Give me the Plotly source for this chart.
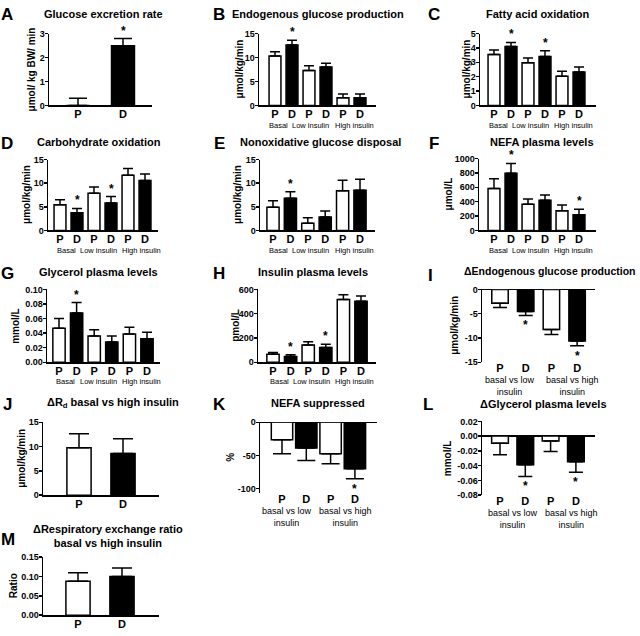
import plotly.graph_objects as go

W, H = 640, 636
FONT = "Liberation Sans, Arial, sans-serif"

# ---------------- data (means and SEM) ----------------
labels_pd = ["P", "D"]
labels_6 = ["P", "D", "P", "D", "P", "D"]
labels_4 = ["P", "D", "P", "D"]
groups_3 = ["Basal", "Low insulin", "High insulin"]
groups_2 = ["basal vs low<br>insulin", "basal vs high<br>insulin"]

excretion_mean = [0.0, 2.49]
excretion_sem = [0.30, 0.30]

egp_mean = [10.3, 12.6, 7.3, 8.0, 1.6, 1.6]
egp_sem = [0.9, 1.0, 1.0, 0.8, 0.8, 0.8]

fao_mean = [3.54, 4.09, 2.97, 3.40, 2.03, 2.33]
fao_sem = [0.32, 0.29, 0.32, 0.41, 0.34, 0.34]

cho_mean = [5.45, 3.75, 7.84, 5.80, 11.66, 10.57]
cho_sem = [1.05, 0.90, 1.36, 1.36, 1.44, 1.36]

nogd_mean = [4.9, 6.8, 1.5, 2.86, 8.4, 8.5]
nogd_sem = [1.37, 1.38, 1.2, 1.24, 2.2, 2.3]

nefa_mean = [582, 795, 364, 418, 273, 218]
nefa_sem = [136, 137, 72, 73, 82, 77]

glycerol_mean = [0.0468, 0.0676, 0.036, 0.028, 0.039, 0.0324]
glycerol_sem = [0.0132, 0.0144, 0.0086, 0.008, 0.009, 0.009]

insulin_mean = [67, 48, 143, 121, 517, 503]
insulin_sem = [14, 14, 26, 27, 40, 43]

d_egp_mean = [-2.84, -4.53, -8.24, -10.6]
d_egp_sem = [0.86, 0.81, 1.02, 1.0]

d_rd_mean = [9.75, 8.6]
d_rd_sem = [2.9, 3.0]

nefa_supp_mean = [-26.4, -38.8, -47.3, -70.1]
nefa_supp_sem = [20.9, 18.9, 15.4, 14.9]

d_glycerol_mean = [-0.0098, -0.0387, -0.0067, -0.0347]
d_glycerol_sem = [0.0155, 0.016, 0.0142, 0.0142]

d_rer_mean = [0.088, 0.100]
d_rer_sem = [0.022, 0.022]

# y tick values
yt_A = [0, 1, 2, 3]
yt_15 = [0, 5, 10, 15]
yt_5 = [0, 1, 2, 3, 4, 5]
yt_nefa = [0, 200, 400, 600, 800, 1000]
yt_gly = [0.00, 0.02, 0.04, 0.06, 0.08, 0.10]
yt_ins = [0, 200, 400, 600]
yt_degp = [0, -5, -10, -15]
yt_supp = [0, -50, -100]
yt_dgly = [0.02, 0.00, -0.02, -0.04, -0.06, -0.08]
yt_rer = [0.00, 0.05, 0.10, 0.15]


def fmt(v, d):
    return f"{v:.{d}f}"


try:
    go.layout.YAxis(ticklabelstandoff=-2)
    YSTAND, XSTAND = -2, -2
except Exception:
    YSTAND, XSTAND = 0, 0

# ---------------- panel geometry (pixels) ----------------
# gx: pixel centres of the group labels
panels = [
    dict(letter="A", title="Glucose excretion rate", ytitle="μmol/ kg BW/ min",
         mean=excretion_mean, sem=excretion_sem, stars=[1], xl=labels_pd, groups=None, gx=None,
         L=49, R=152, c0=78, s=45, top=29, bot=102, yr=[0, 3], yt=yt_A, dec=0, bw=0.51,
         lx=7, ly=10, tx=103, ty=9, tfs=11, ytx=31),
    dict(letter="B", title="Endogenous glucose production", ytitle="μmol/kg/min",
         mean=egp_mean, sem=egp_sem, stars=[1], xl=labels_6, groups=groups_3, gx=[278, 310, 354],
         L=259, R=376, c0=275, s=17, top=29, bot=102, yr=[0, 15], yt=yt_15, dec=0, bw=0.7,
         lx=219, ly=10, tx=318, ty=9, tfs=11, ytx=239),
    dict(letter="C", title="Fatty acid oxidation", ytitle="μmol/kg/min",
         mean=fao_mean, sem=fao_sem, stars=[1, 3], xl=labels_6, groups=groups_3, gx=[498, 530, 573],
         L=480, R=596, c0=494, s=17, top=29, bot=102, yr=[0, 5], yt=yt_5, dec=0, bw=0.7,
         lx=434, ly=10, tx=538, ty=9, tfs=11, ytx=466),
    dict(letter="D", title="Carbohydrate oxidation", ytitle="μmol/kg/min",
         mean=cho_mean, sem=cho_sem, stars=[1, 3], xl=labels_6, groups=groups_3, gx=[66, 98, 141],
         L=48, R=158, c0=60, s=17, top=157, bot=229, yr=[0, 15], yt=yt_15, dec=0, bw=0.7,
         lx=7, ly=141, tx=99, ty=139, tfs=11, ytx=27),
    dict(letter="E", title="Nonoxidative glucose disposal", ytitle="μmol/kg/min",
         mean=nogd_mean, sem=nogd_sem, stars=[1], xl=labels_6, groups=groups_3, gx=[278, 310, 354],
         L=260, R=375, c0=273, s=17.4, top=157, bot=229, yr=[0, 15], yt=yt_15, dec=0, bw=0.7,
         lx=219, ly=141, tx=320, ty=139, tfs=11, ytx=238),
    dict(letter="F", title="NEFA plasma levels", ytitle="μmol/L",
         mean=nefa_mean, sem=nefa_sem, stars=[1, 5], xl=labels_6, groups=groups_3, gx=[498, 530, 573],
         L=479, R=596, c0=494, s=17, top=156, bot=229, yr=[0, 1000], yt=yt_nefa, dec=0, bw=0.7,
         lx=434, ly=141, tx=542, ty=139, tfs=11, ytx=448),
    dict(letter="G", title="Glycerol plasma levels", ytitle="mmol/L",
         mean=glycerol_mean, sem=glycerol_sem, stars=[1], xl=labels_6, groups=groups_3, gx=[65, 98, 141],
         L=47, R=160, c0=59, s=17.6, top=289, bot=363, yr=[0, 0.10], yt=yt_gly, dec=2, bw=0.7,
         lx=7, ly=273, tx=98, ty=271, tfs=11, ytx=16),
    dict(letter="H", title="Insulin plasma levels", ytitle="pmol/L",
         mean=insulin_mean, sem=insulin_sem, stars=[1, 3], xl=labels_6, groups=groups_3, gx=[279, 311, 354],
         L=258, R=376, c0=273, s=17.6, top=289, bot=363, yr=[0, 600], yt=yt_ins, dec=0, bw=0.7,
         lx=219, ly=273, tx=313, ty=271, tfs=11, ytx=236),
    dict(letter="I", title="ΔEndogenous glucose production", ytitle="μmol/kg/min",
         mean=d_egp_mean, sem=d_egp_sem, stars=[1, 3], xl=labels_4, groups=groups_2, gx=[510, 572],
         L=482, R=595, c0=500, s=25.7, top=289, bot=363, yr=[-15, 0], yt=yt_degp, dec=0, bw=0.64,
         lx=430, ly=275, tx=549, ty=270, tfs=10.5, ytx=455),
    dict(letter="J", title="ΔR<sub>d</sub> basal vs high insulin", ytitle="μmol/kg/min",
         mean=d_rd_mean, sem=d_rd_sem, stars=[], xl=labels_pd, groups=None, gx=None,
         L=43, R=159, c0=79, s=44, top=424, bot=498, yr=[0, 15], yt=yt_15, dec=0, bw=0.55,
         lx=7, ly=406, tx=113, ty=404, tfs=11, ytx=22),
    dict(letter="K", title="NEFA suppressed", ytitle="%",
         mean=nefa_supp_mean, sem=nefa_supp_sem, stars=[3], xl=labels_4, groups=groups_2, gx=[287, 345],
         L=260, R=377, c0=282, s=24.3, top=424, bot=496, yr=[-107, 0], yt=yt_supp, dec=0, bw=0.88,
         lx=219, ly=406, tx=318, ty=404, tfs=11, ytx=231),
    dict(letter="L", title="ΔGlycerol plasma levels", ytitle="mmol/L",
         mean=d_glycerol_mean, sem=d_glycerol_sem, stars=[1, 3], xl=labels_4, groups=groups_2, gx=[513, 571],
         L=482, R=595, c0=500, s=25.3, top=423, bot=498, yr=[-0.08, 0.02], yt=yt_dgly, dec=2, bw=0.66,
         lx=428, ly=406, tx=543, ty=405, tfs=11, ytx=447),
    dict(letter="M", title="ΔRespiratory exchange ratio<br>basal vs high insulin", ytitle="Ratio",
         mean=d_rer_mean, sem=d_rer_sem, stars=[], xl=labels_pd, groups=None, gx=None,
         L=43, R=159, c0=78, s=44, top=561, bot=620, yr=[0, 0.15], yt=yt_rer, dec=2, bw=0.55,
         lx=8, ly=543, tx=108, ty=539, tfs=11, ytx=13),
]


def px(x):
    return x / W


def py(y):
    return 1 - y / H


fig = go.Figure()
annotations = []
layout = {}

for n, p in enumerate(panels, start=1):
    xs = list(range(len(p["mean"])))
    xref = "x" if n == 1 else f"x{n}"
    yref = "y" if n == 1 else f"y{n}"
    xkey = "xaxis" if n == 1 else f"xaxis{n}"
    ykey = "yaxis" if n == 1 else f"yaxis{n}"
    colors = ["white" if i % 2 == 0 else "black" for i in xs]
    up = [s if m >= 0 else 0 for m, s in zip(p["mean"], p["sem"])]
    dn = [0 if m >= 0 else s for m, s in zip(p["mean"], p["sem"])]
    cap = max(3, round(p["bw"] * p["s"] * 0.4))
    fig.add_trace(go.Bar(
        x=xs, y=p["mean"], width=p["bw"], xaxis=xref, yaxis=yref,
        marker=dict(color=colors, line=dict(color="black", width=1.5)),
        error_y=dict(type="data", symmetric=False, array=up, arrayminus=dn,
                     color="black", thickness=1.5, width=cap),
        showlegend=False, hoverinfo="skip"))

    neg = min(p["mean"]) < 0
    L, R, c0, s = p["L"], p["R"], p["c0"], p["s"]
    layout[xkey] = dict(
        domain=[px(L), px(R)], range=[(L - c0) / s, (R - c0) / s], anchor=yref,
        tickmode="array", tickvals=xs, ticktext=p["xl"], ticks="",
        ticklabelstandoff=XSTAND,
        tickfont=dict(family=FONT, size=11, color="black", weight="bold"),
        showline=not neg, linecolor="black", linewidth=1.5,
        showgrid=False, zeroline=False, fixedrange=True)
    layout[ykey] = dict(
        domain=[py(p["bot"]), py(p["top"])], range=p["yr"], anchor=xref,
        tickmode="array", tickvals=p["yt"], ticktext=[fmt(v, p["dec"]) for v in p["yt"]],
        ticks="outside", ticklen=3, tickwidth=1.5, tickcolor="black",
        ticklabelstandoff=YSTAND,
        tickfont=dict(family=FONT, size=9, color="black", weight="bold"),
        showline=True, linecolor="black", linewidth=1.5, showgrid=False,
        zeroline=neg, zerolinecolor="black", zerolinewidth=1.5, fixedrange=True)

    # letter
    annotations.append(dict(x=px(p["lx"]), y=py(p["ly"]), xref="paper", yref="paper",
                            text=p["letter"], showarrow=False, xanchor="center", yanchor="middle",
                            font=dict(family=FONT, size=17, color="black", weight="bold")))
    # title
    annotations.append(dict(x=px(p["tx"]), y=py(p["ty"]), xref="paper", yref="paper",
                            text=p["title"], showarrow=False, xanchor="center", yanchor="middle",
                            font=dict(family=FONT, size=p["tfs"], color="black", weight="bold")))
    # y title
    annotations.append(dict(x=px(p["ytx"]), y=py((p["top"] + p["bot"]) / 2), xref="paper", yref="paper",
                            text=p["ytitle"], showarrow=False, textangle=-90,
                            xanchor="center", yanchor="middle",
                            font=dict(family=FONT, size=10, color="black", weight="bold")))
    # group labels
    if p["groups"]:
        two = len(p["groups"]) == 2
        for lab, gx in zip(p["groups"], p["gx"]):
            annotations.append(dict(
                x=px(gx), xref="paper",
                y=py(p["bot"] + (11 if two else 20)), yref="paper",
                text=lab, showarrow=False, xanchor="center",
                yanchor="top" if two else "middle",
                font=dict(family=FONT, size=9 if two else 7.5, color="#000000")))
    # significance stars
    for i in p["stars"]:
        m, e = p["mean"][i], p["sem"][i]
        yv = m + e if m >= 0 else m - e
        annotations.append(dict(x=i, y=yv, xref=xref, yref=yref, text="*", showarrow=False,
                                xanchor="center", yanchor="middle",
                                yshift=8 if m >= 0 else -10,
                                font=dict(family=FONT, size=12, color="black", weight="bold")))

fig.update_layout(
    width=W, height=H, margin=dict(l=0, r=0, t=0, b=0),
    paper_bgcolor="white", plot_bgcolor="white",
    annotations=annotations, bargap=0, **layout)

fig.write_html("out.html",
               config={"displayModeBar": False, "staticPlot": True},
               post_script="document.body.style.margin='0';document.body.style.overflow='hidden';")
